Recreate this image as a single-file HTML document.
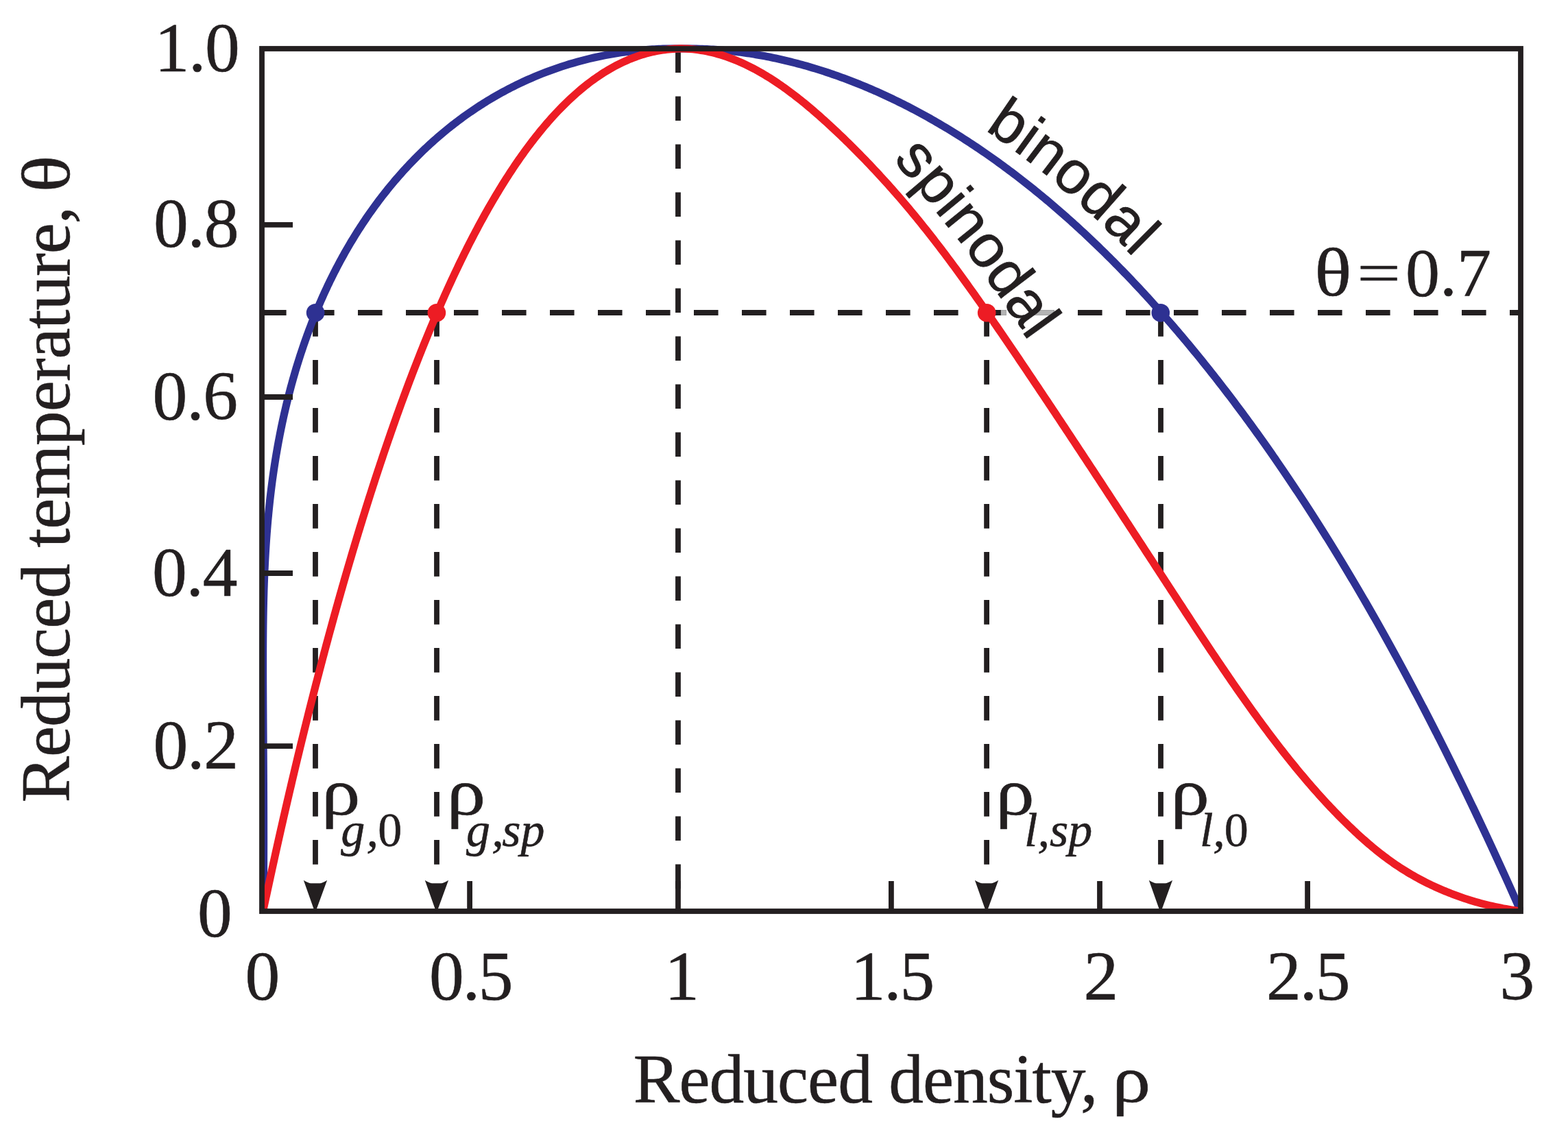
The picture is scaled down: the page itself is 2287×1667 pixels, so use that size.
<!DOCTYPE html>
<html lang="en"><head><meta charset="utf-8"><title>Binodal and spinodal curves</title>
<style>html,body{margin:0;padding:0;background:#fff}svg{display:block}text{fill:#231f20;stroke:#231f20;stroke-width:.6px;stroke-linejoin:round}.s{font-family:"Liberation Serif",serif}.h{font-family:"Liberation Sans",sans-serif;stroke-width:.8px}.i{font-style:italic}</style></head><body>
<svg width="2287" height="1667" viewBox="0 0 2287 1667">
<rect width="2287" height="1667" fill="#fff"/>
<g stroke="#231f20" stroke-width="7.8" fill="none" stroke-dasharray="35.6 34.4">
<path d="M382,456.0 H2218"/>
<path d="M989,70.5 V1329"/>
<path d="M460.0,455.1 V1300"/>
<path d="M637.0,455.1 V1300"/>
<path d="M1439.1,455.1 V1300"/>
<path d="M1693.0,455.1 V1300"/>
</g>
<g fill="#b3b3b3"><rect x="1459.8" y="452.1" width="8" height="7.8"/><rect x="1502" y="452.1" width="35.6" height="7.8"/></g>
<clipPath id="plot"><rect x="378.3" y="0" width="1843.4" height="1332.6"/></clipPath>
<g clip-path="url(#plot)" fill="none" stroke-width="11.2" stroke-linejoin="round">
<path d="M384.31,1328.90 L384.37,1291.16 L384.39,1287.90 L384.41,1284.65 L384.43,1281.39 L384.46,1274.88 L384.48,1271.63 L384.49,1268.37 L384.50,1265.11 L384.51,1261.86 L384.53,1255.35 L384.56,1242.33 L384.57,1239.07 L384.58,1232.56 L384.58,1229.30 L384.58,1219.54 L384.56,1196.75 L384.55,1193.49 L384.55,1190.24 L384.54,1186.98 L384.53,1183.72 L384.52,1180.47 L384.52,1177.21 L384.51,1173.96 L384.50,1170.70 L384.49,1167.45 L384.47,1164.19 L384.46,1160.93 L384.45,1157.68 L384.44,1154.42 L384.43,1151.17 L384.41,1147.91 L384.40,1144.66 L384.38,1141.40 L384.37,1138.15 L384.35,1134.89 L384.34,1131.63 L384.32,1128.38 L384.31,1125.12 L384.29,1121.87 L384.27,1118.61 L384.25,1115.36 L384.24,1112.10 L384.22,1108.84 L384.20,1105.59 L384.18,1102.33 L384.16,1099.08 L384.14,1095.82 L384.13,1092.57 L384.11,1089.31 L384.09,1086.06 L384.07,1082.80 L384.05,1079.54 L384.03,1076.29 L384.01,1073.03 L383.99,1069.78 L383.97,1066.52 L383.95,1063.27 L383.93,1060.01 L383.91,1056.76 L383.89,1053.50 L383.87,1050.24 L383.85,1046.99 L383.84,1043.73 L383.82,1040.48 L383.80,1037.22 L383.78,1033.97 L383.76,1030.71 L383.74,1027.46 L383.73,1024.20 L383.71,1020.94 L383.70,1017.69 L383.68,1014.43 L383.67,1011.18 L383.65,1007.92 L383.64,1004.67 L383.63,1001.41 L383.61,998.16 L383.60,994.90 L383.59,991.65 L383.58,988.39 L383.58,985.14 L383.57,981.88 L383.56,978.62 L383.56,975.37 L383.56,972.11 L383.56,968.86 L383.56,965.60 L383.56,962.35 L383.56,959.09 L383.57,955.84 L383.57,952.58 L383.58,949.33 L383.59,946.07 L383.61,942.82 L383.62,939.56 L383.64,936.31 L383.66,933.05 L383.68,929.80 L383.71,926.54 L383.73,923.29 L383.76,920.03 L383.80,916.78 L383.83,913.52 L383.87,910.27 L383.92,907.01 L383.96,903.76 L384.01,900.50 L384.06,897.25 L384.12,894.00 L384.18,890.74 L384.24,887.49 L384.31,884.23 L384.38,880.98 L384.45,877.72 L384.53,874.47 L384.61,871.21 L384.70,867.96 L384.79,864.71 L384.88,861.45 L384.98,858.20 L385.09,854.94 L385.20,851.69 L385.31,848.44 L385.43,845.18 L385.56,841.93 L385.68,838.67 L385.82,835.42 L385.96,832.17 L386.10,828.91 L386.26,825.66 L386.41,822.41 L386.57,819.15 L386.74,815.90 L386.92,812.65 L387.10,809.40 L387.28,806.14 L387.48,802.89 L387.68,799.64 L387.88,796.39 L388.09,793.13 L388.31,789.88 L388.54,786.63 L388.77,783.38 L389.01,780.13 L389.25,776.87 L389.51,773.62 L389.77,770.37 L390.04,767.12 L390.31,763.87 L390.59,760.62 L390.88,757.37 L391.18,754.12 L391.49,750.87 L391.80,747.62 L392.12,744.37 L392.45,741.12 L392.79,737.87 L393.13,734.62 L393.48,731.37 L393.85,728.12 L394.22,724.87 L394.59,721.62 L394.98,718.38 L395.37,715.13 L395.78,711.88 L396.19,708.63 L396.61,705.39 L397.04,702.14 L397.47,698.89 L397.92,695.64 L398.38,692.40 L398.84,689.15 L399.31,685.91 L399.80,682.66 L400.29,679.41 L400.79,676.17 L401.30,672.92 L401.82,669.68 L402.35,666.43 L402.89,663.19 L403.44,659.95 L404.00,656.70 L404.57,653.46 L405.14,650.21 L405.73,646.97 L406.33,643.73 L407.52,637.46 L408.33,633.26 L409.16,629.08 L410.00,624.91 L410.86,620.75 L411.73,616.62 L412.62,612.50 L413.52,608.39 L414.43,604.30 L415.36,600.23 L416.30,596.17 L417.25,592.13 L418.22,588.10 L419.20,584.09 L420.20,580.10 L421.21,576.12 L422.23,572.16 L423.27,568.21 L424.31,564.28 L425.38,560.37 L426.45,556.47 L427.54,552.59 L428.64,548.72 L429.76,544.87 L430.88,541.03 L432.02,537.21 L433.18,533.40 L434.34,529.61 L435.52,525.84 L436.71,522.08 L437.92,518.34 L439.13,514.61 L440.36,510.90 L441.60,507.20 L442.86,503.52 L444.12,499.85 L445.40,496.20 L446.69,492.57 L447.99,488.95 L449.31,485.35 L450.64,481.76 L451.98,478.18 L453.33,474.63 L454.69,471.08 L456.07,467.56 L457.46,464.04 L458.86,460.55 L460.27,457.07 L461.69,453.60 L463.13,450.15 L464.58,446.72 L466.04,443.30 L467.51,439.89 L468.99,436.50 L470.49,433.13 L472.00,429.77 L473.52,426.43 L475.05,423.10 L476.59,419.79 L478.14,416.49 L479.71,413.21 L481.28,409.94 L482.87,406.69 L484.47,403.45 L486.08,400.23 L487.71,397.02 L489.34,393.83 L490.98,390.66 L492.64,387.49 L494.31,384.35 L495.98,381.22 L497.67,378.10 L499.37,375.00 L501.09,371.92 L502.81,368.85 L504.54,365.80 L506.28,362.76 L508.04,359.73 L509.80,356.73 L511.58,353.73 L513.37,350.75 L515.17,347.79 L516.97,344.84 L518.79,341.91 L520.62,338.99 L522.46,336.09 L524.31,333.20 L526.17,330.33 L528.04,327.48 L529.92,324.63 L531.82,321.81 L533.72,319.00 L535.63,316.20 L537.55,313.42 L539.48,310.65 L541.43,307.90 L543.38,305.17 L545.34,302.45 L547.31,299.74 L549.30,297.05 L551.29,294.38 L553.29,291.72 L555.30,289.08 L557.32,286.45 L559.36,283.83 L561.40,281.24 L563.45,278.65 L565.51,276.09 L567.58,273.53 L569.66,271.00 L571.75,268.48 L573.85,265.97 L575.96,263.48 L578.08,261.00 L580.20,258.54 L582.34,256.10 L584.49,253.67 L586.64,251.26 L588.81,248.86 L590.98,246.48 L593.17,244.11 L595.36,241.76 L597.56,239.42 L599.77,237.10 L601.99,234.79 L604.22,232.50 L606.46,230.23 L608.71,227.97 L610.96,225.73 L613.23,223.50 L615.50,221.29 L617.78,219.09 L620.07,216.91 L622.37,214.75 L624.68,212.60 L627.00,210.46 L629.32,208.34 L631.66,206.24 L634.00,204.16 L636.35,202.08 L638.71,200.03 L641.08,197.99 L643.46,195.97 L645.84,193.96 L648.23,191.97 L650.64,189.99 L653.05,188.03 L655.46,186.09 L657.89,184.16 L660.32,182.24 L662.76,180.35 L665.21,178.47 L667.67,176.60 L670.14,174.75 L672.61,172.92 L675.09,171.10 L677.58,169.30 L680.08,167.52 L682.58,165.75 L685.09,163.99 L687.61,162.26 L690.14,160.54 L692.68,158.83 L695.22,157.14 L697.77,155.47 L700.33,153.81 L702.89,152.17 L705.46,150.55 L708.04,148.94 L710.63,147.35 L713.22,145.78 L715.82,144.22 L718.43,142.67 L721.04,141.15 L723.66,139.64 L726.29,138.14 L728.93,136.67 L731.57,135.20 L734.22,133.76 L736.87,132.33 L739.53,130.92 L742.20,129.52 L744.88,128.14 L747.56,126.77 L750.25,125.43 L752.94,124.10 L755.64,122.78 L758.35,121.48 L763.78,118.93 L769.24,116.45 L774.72,114.03 L780.22,111.68 L785.75,109.39 L791.30,107.17 L796.88,105.02 L802.47,102.93 L808.09,100.90 L813.73,98.94 L819.39,97.05 L825.08,95.22 L830.78,93.46 L836.50,91.76 L842.24,90.13 L848.01,88.57 L853.79,87.07 L859.58,85.64 L865.40,84.27 L871.24,82.97 L877.09,81.74 L882.96,80.57 L888.85,79.47 L894.75,78.44 L900.67,77.47 L903.63,77.01 L906.60,76.56 L909.58,76.14 L912.55,75.73 L915.53,75.33 L918.52,74.96 L921.51,74.60 L924.50,74.25 L927.49,73.93 L930.49,73.62 L933.50,73.32 L936.50,73.04 L939.51,72.78 L942.52,72.54 L945.54,72.31 L948.56,72.10 L951.58,71.91 L954.61,71.73 L957.64,71.57 L960.67,71.42 L963.70,71.29 L966.75,71.18 L994.00,70.92 L1021.50,71.24 L1024.60,71.36 L1027.69,71.49 L1030.80,71.64 L1033.90,71.81 L1037.01,71.99 L1040.12,72.19 L1043.23,72.40 L1046.35,72.64 L1049.47,72.88 L1052.59,73.15 L1055.71,73.43 L1058.84,73.73 L1061.97,74.04 L1065.10,74.37 L1068.23,74.71 L1071.37,75.08 L1074.51,75.46 L1077.65,75.85 L1080.80,76.26 L1083.94,76.69 L1087.09,77.14 L1090.24,77.60 L1093.40,78.07 L1096.55,78.57 L1099.71,79.08 L1102.87,79.60 L1106.03,80.15 L1109.20,80.71 L1112.37,81.28 L1115.53,81.87 L1118.70,82.48 L1121.88,83.11 L1125.05,83.75 L1128.23,84.41 L1131.41,85.08 L1134.59,85.77 L1137.77,86.48 L1140.95,87.20 L1144.14,87.94 L1147.32,88.70 L1150.51,89.47 L1153.70,90.26 L1156.89,91.06 L1160.08,91.88 L1163.28,92.72 L1166.47,93.57 L1169.67,94.44 L1172.87,95.33 L1176.07,96.23 L1179.27,97.15 L1182.48,98.09 L1185.68,99.04 L1188.88,100.01 L1192.09,100.99 L1195.30,101.99 L1198.51,103.01 L1201.72,104.04 L1204.93,105.09 L1208.14,106.16 L1211.35,107.24 L1214.57,108.34 L1217.78,109.46 L1221.00,110.59 L1224.21,111.73 L1227.43,112.90 L1230.65,114.08 L1233.87,115.27 L1237.09,116.49 L1240.31,117.72 L1243.53,118.96 L1246.75,120.22 L1249.97,121.50 L1253.20,122.79 L1256.42,124.10 L1259.64,125.43 L1262.87,126.77 L1266.09,128.13 L1269.32,129.51 L1272.54,130.90 L1275.77,132.31 L1279.00,133.73 L1282.22,135.17 L1285.45,136.63 L1288.68,138.10 L1291.91,139.59 L1295.14,141.09 L1298.36,142.61 L1301.59,144.15 L1304.82,145.70 L1308.05,147.27 L1311.28,148.86 L1314.51,150.46 L1317.74,152.08 L1320.96,153.71 L1324.19,155.36 L1327.42,157.03 L1330.65,158.71 L1333.88,160.41 L1337.11,162.13 L1340.34,163.86 L1343.57,165.60 L1346.79,167.37 L1350.02,169.15 L1353.25,170.94 L1356.48,172.75 L1359.70,174.58 L1362.93,176.42 L1366.16,178.28 L1369.38,180.16 L1372.61,182.05 L1375.83,183.96 L1379.06,185.88 L1382.28,187.82 L1385.51,189.78 L1388.73,191.75 L1391.95,193.74 L1395.17,195.75 L1398.39,197.77 L1401.62,199.80 L1404.84,201.85 L1408.06,203.92 L1411.27,206.01 L1414.49,208.11 L1417.71,210.22 L1420.93,212.36 L1424.14,214.50 L1427.36,216.67 L1430.57,218.85 L1433.79,221.05 L1437.00,223.26 L1440.21,225.49 L1443.42,227.73 L1446.63,229.99 L1449.84,232.27 L1453.05,234.56 L1456.25,236.87 L1459.46,239.19 L1462.67,241.53 L1465.87,243.89 L1469.07,246.26 L1472.27,248.64 L1475.48,251.05 L1478.68,253.47 L1481.87,255.90 L1485.07,258.35 L1488.27,260.82 L1491.46,263.30 L1494.66,265.80 L1497.85,268.32 L1501.04,270.85 L1504.23,273.39 L1507.42,275.95 L1510.61,278.53 L1513.79,281.12 L1516.98,283.73 L1520.16,286.36 L1523.34,289.00 L1526.52,291.66 L1529.70,294.33 L1532.88,297.02 L1536.06,299.72 L1539.23,302.44 L1542.41,305.18 L1545.58,307.93 L1548.75,310.69 L1551.92,313.48 L1555.09,316.27 L1558.26,319.09 L1561.42,321.92 L1564.58,324.76 L1567.75,327.62 L1570.91,330.50 L1574.06,333.39 L1577.22,336.30 L1580.38,339.22 L1583.53,342.16 L1586.68,345.12 L1589.83,348.09 L1592.98,351.07 L1596.13,354.08 L1599.28,357.09 L1602.42,360.12 L1605.56,363.17 L1608.71,366.24 L1611.84,369.32 L1614.98,372.41 L1618.12,375.52 L1621.25,378.65 L1624.39,381.79 L1627.52,384.95 L1630.65,388.12 L1633.77,391.31 L1636.90,394.51 L1640.02,397.73 L1643.14,400.96 L1646.26,404.21 L1649.38,407.48 L1652.50,410.76 L1655.62,414.05 L1658.73,417.37 L1661.84,420.69 L1664.95,424.03 L1668.06,427.39 L1671.17,430.77 L1674.27,434.15 L1677.37,437.56 L1680.47,440.98 L1683.57,444.41 L1686.67,447.86 L1689.77,451.33 L1692.86,454.81 L1695.95,458.30 L1699.04,461.82 L1702.13,465.34 L1705.22,468.88 L1708.30,472.44 L1711.39,476.01 L1714.47,479.60 L1717.55,483.20 L1720.62,486.82 L1723.70,490.46 L1726.77,494.10 L1729.85,497.77 L1732.92,501.45 L1735.99,505.14 L1739.05,508.85 L1742.12,512.58 L1745.18,516.32 L1748.25,520.07 L1751.31,523.84 L1754.36,527.63 L1757.42,531.43 L1760.48,535.24 L1763.53,539.07 L1766.58,542.92 L1769.63,546.78 L1772.68,550.66 L1775.73,554.55 L1778.77,558.46 L1781.81,562.38 L1784.85,566.31 L1787.89,570.27 L1790.93,574.23 L1793.96,578.22 L1797.00,582.22 L1800.03,586.23 L1803.06,590.26 L1806.09,594.30 L1809.11,598.36 L1812.14,602.44 L1815.16,606.52 L1818.18,610.63 L1821.20,614.75 L1824.21,618.89 L1827.23,623.04 L1830.24,627.20 L1833.25,631.38 L1836.26,635.58 L1839.27,639.79 L1843.73,646.08 L1846.02,649.32 L1848.31,652.57 L1850.59,655.82 L1852.87,659.07 L1855.14,662.32 L1857.39,665.57 L1859.65,668.82 L1861.89,672.07 L1864.13,675.32 L1866.36,678.56 L1868.58,681.81 L1870.80,685.06 L1873.01,688.31 L1875.21,691.56 L1877.40,694.80 L1879.59,698.05 L1881.77,701.30 L1883.95,704.54 L1886.12,707.79 L1888.28,711.04 L1890.43,714.28 L1892.58,717.53 L1894.72,720.77 L1896.86,724.02 L1898.99,727.26 L1901.11,730.51 L1903.23,733.75 L1905.34,737.00 L1907.44,740.24 L1909.54,743.49 L1911.63,746.73 L1913.72,749.98 L1915.80,753.22 L1917.87,756.47 L1919.94,759.71 L1922.00,762.95 L1924.06,766.20 L1926.11,769.44 L1928.15,772.69 L1930.19,775.93 L1932.22,779.17 L1934.25,782.42 L1936.27,785.66 L1938.29,788.90 L1940.30,792.14 L1942.30,795.39 L1944.30,798.63 L1946.29,801.87 L1948.28,805.11 L1950.27,808.36 L1952.24,811.60 L1954.22,814.84 L1956.18,818.08 L1958.15,821.33 L1960.10,824.57 L1962.06,827.81 L1964.00,831.05 L1965.94,834.29 L1967.88,837.53 L1969.81,840.78 L1971.74,844.02 L1973.66,847.26 L1975.58,850.50 L1977.49,853.74 L1979.40,856.98 L1981.30,860.22 L1983.20,863.47 L1985.09,866.71 L1986.98,869.95 L1988.86,873.19 L1990.74,876.43 L1992.61,879.67 L1994.48,882.91 L1996.35,886.15 L1998.21,889.39 L2000.06,892.63 L2001.91,895.87 L2003.76,899.11 L2005.60,902.35 L2007.44,905.60 L2009.28,908.84 L2011.11,912.08 L2012.93,915.32 L2014.75,918.56 L2016.57,921.80 L2018.38,925.04 L2020.19,928.28 L2021.99,931.52 L2023.79,934.76 L2025.59,938.00 L2027.38,941.24 L2029.17,944.48 L2030.95,947.72 L2032.73,950.96 L2034.51,954.20 L2036.28,957.44 L2038.05,960.68 L2039.81,963.92 L2041.57,967.16 L2043.33,970.40 L2045.08,973.64 L2046.83,976.88 L2048.57,980.12 L2050.31,983.36 L2052.05,986.60 L2053.78,989.84 L2055.51,993.08 L2057.24,996.32 L2058.96,999.56 L2060.68,1002.80 L2062.39,1006.04 L2064.11,1009.28 L2065.81,1012.52 L2067.52,1015.76 L2069.22,1019.00 L2070.92,1022.24 L2072.61,1025.48 L2074.30,1028.72 L2075.99,1031.96 L2077.67,1035.20 L2079.35,1038.44 L2081.03,1041.68 L2082.70,1044.92 L2084.37,1048.16 L2086.04,1051.40 L2087.70,1054.64 L2089.36,1057.88 L2091.02,1061.12 L2092.67,1064.36 L2094.33,1067.60 L2095.97,1070.85 L2097.62,1074.09 L2099.26,1077.33 L2100.90,1080.57 L2102.53,1083.81 L2104.16,1087.05 L2105.79,1090.29 L2107.42,1093.53 L2109.04,1096.77 L2110.66,1100.01 L2112.27,1103.25 L2113.89,1106.49 L2115.50,1109.73 L2117.10,1112.97 L2118.71,1116.21 L2120.31,1119.45 L2121.91,1122.69 L2123.50,1125.93 L2125.09,1129.18 L2126.68,1132.42 L2128.27,1135.66 L2129.85,1138.90 L2131.44,1142.14 L2133.01,1145.38 L2134.59,1148.62 L2136.16,1151.86 L2137.73,1155.10 L2139.30,1158.34 L2140.86,1161.59 L2142.42,1164.83 L2143.98,1168.07 L2145.54,1171.31 L2147.09,1174.55 L2148.64,1177.79 L2150.19,1181.03 L2151.73,1184.27 L2153.27,1187.52 L2154.81,1190.76 L2156.35,1194.00 L2157.88,1197.24 L2168.55,1219.93 L2173.08,1229.66 L2174.59,1232.90 L2177.59,1239.39 L2179.09,1242.63 L2185.06,1255.60 L2188.03,1262.08 L2189.51,1265.33 L2190.99,1268.57 L2192.47,1271.81 L2193.94,1275.06 L2196.88,1281.54 L2198.35,1284.79 L2199.82,1288.03 L2201.28,1291.27 L2218.06,1328.87" stroke="#2e3192"/>
<path d="M383.48,1329.22 L384.50,1324.50 L385.52,1319.79 L386.54,1315.09 L387.57,1310.41 L388.59,1305.73 L389.61,1301.06 L390.61,1296.40 L391.61,1291.75 L392.61,1287.11 L393.61,1282.48 L394.61,1277.86 L395.62,1273.25 L396.62,1268.65 L397.62,1264.07 L398.62,1259.49 L399.63,1254.92 L400.63,1250.37 L401.64,1245.82 L402.64,1241.28 L403.65,1236.76 L404.65,1232.24 L405.66,1227.74 L406.66,1223.25 L407.67,1218.76 L408.68,1214.29 L409.68,1209.83 L410.69,1205.37 L411.70,1200.93 L412.71,1196.50 L413.71,1192.08 L414.72,1187.67 L415.73,1183.27 L416.74,1178.88 L417.75,1174.50 L418.76,1170.13 L419.77,1165.77 L420.78,1161.42 L421.79,1157.08 L422.80,1152.75 L423.82,1148.43 L424.83,1144.12 L425.84,1139.82 L426.85,1135.54 L427.86,1131.26 L428.88,1126.99 L429.89,1122.73 L430.90,1118.49 L431.92,1114.25 L432.93,1110.02 L433.94,1105.80 L434.96,1101.60 L435.97,1097.40 L436.99,1093.22 L438.00,1089.04 L439.02,1084.87 L440.03,1080.72 L441.05,1076.57 L442.07,1072.43 L443.08,1068.31 L444.10,1064.19 L445.11,1060.09 L446.13,1055.99 L447.15,1051.90 L448.17,1047.83 L449.18,1043.76 L450.20,1039.71 L451.22,1035.66 L452.24,1031.63 L453.25,1027.60 L454.27,1023.58 L455.29,1019.58 L456.31,1015.58 L457.33,1011.60 L458.35,1007.62 L459.37,1003.65 L460.39,999.70 L461.41,995.75 L462.43,991.81 L463.44,987.89 L464.46,983.97 L465.48,980.06 L466.51,976.17 L467.53,972.28 L468.55,968.40 L469.57,964.53 L470.59,960.68 L471.61,956.83 L472.63,952.99 L473.65,949.16 L474.67,945.34 L475.69,941.53 L476.71,937.73 L477.74,933.94 L478.76,930.16 L479.78,926.39 L480.80,922.63 L481.82,918.88 L482.85,915.14 L483.87,911.41 L484.89,907.69 L485.91,903.98 L486.94,900.27 L487.96,896.58 L488.98,892.90 L490.00,889.23 L491.03,885.56 L492.05,881.91 L493.07,878.26 L494.10,874.63 L495.12,871.00 L496.14,867.39 L497.17,863.78 L498.19,860.19 L499.21,856.60 L500.24,853.02 L501.26,849.45 L502.28,845.89 L503.31,842.35 L504.33,838.81 L505.36,835.28 L506.38,831.76 L507.40,828.24 L508.43,824.74 L509.45,821.25 L510.48,817.77 L511.50,814.30 L512.52,810.83 L513.55,807.38 L514.57,803.93 L515.60,800.50 L516.62,797.07 L517.65,793.65 L518.67,790.25 L519.70,786.85 L520.72,783.46 L521.75,780.08 L522.77,776.71 L523.79,773.35 L524.82,770.00 L525.84,766.66 L526.87,763.33 L527.89,760.00 L528.92,756.69 L529.94,753.38 L530.97,750.09 L531.99,746.80 L533.02,743.53 L534.04,740.26 L535.07,737.00 L536.09,733.75 L537.12,730.51 L538.14,727.28 L539.17,724.06 L540.19,720.85 L541.22,717.64 L542.24,714.45 L543.27,711.26 L544.29,708.09 L545.32,704.92 L546.34,701.76 L547.37,698.61 L548.39,695.48 L549.42,692.35 L550.44,689.22 L551.47,686.11 L552.49,683.01 L553.52,679.92 L554.54,676.83 L555.57,673.76 L556.59,670.69 L557.62,667.63 L558.64,664.58 L559.67,661.54 L560.69,658.51 L561.72,655.49 L562.74,652.48 L563.77,649.47 L564.79,646.48 L565.82,643.49 L566.84,640.52 L567.87,637.55 L568.89,634.59 L569.92,631.64 L570.94,628.70 L571.97,625.77 L572.99,622.85 L574.02,619.93 L575.04,617.03 L576.07,614.13 L577.09,611.24 L578.12,608.36 L579.14,605.49 L580.17,602.63 L581.19,599.78 L582.22,596.94 L583.24,594.10 L585.29,588.46 L587.34,582.85 L589.39,577.28 L591.44,571.74 L593.48,566.24 L595.53,560.77 L597.58,555.34 L599.63,549.94 L601.68,544.57 L603.73,539.24 L605.77,533.95 L607.82,528.69 L609.87,523.46 L611.92,518.27 L613.96,513.11 L616.01,507.99 L618.06,502.90 L620.10,497.84 L622.15,492.82 L624.20,487.83 L626.24,482.88 L628.29,477.96 L630.34,473.07 L632.38,468.22 L634.43,463.40 L636.47,458.61 L638.52,453.86 L640.56,449.14 L642.61,444.46 L644.65,439.80 L646.70,435.18 L648.74,430.59 L650.79,426.04 L652.83,421.52 L654.87,417.03 L656.92,412.57 L658.96,408.15 L661.00,403.76 L663.05,399.40 L665.09,395.08 L667.13,390.78 L669.18,386.52 L671.22,382.29 L673.26,378.09 L675.30,373.93 L677.34,369.80 L679.39,365.70 L681.43,361.63 L683.47,357.59 L685.51,353.58 L687.55,349.61 L689.59,345.67 L691.63,341.76 L693.67,337.88 L695.71,334.03 L697.75,330.21 L699.79,326.42 L701.83,322.67 L703.87,318.95 L705.91,315.25 L707.95,311.59 L709.99,307.96 L712.03,304.36 L714.07,300.79 L716.11,297.25 L718.15,293.74 L720.19,290.27 L722.22,286.82 L724.26,283.40 L726.30,280.02 L728.34,276.66 L730.37,273.33 L732.41,270.04 L734.45,266.77 L736.49,263.54 L738.52,260.33 L740.56,257.15 L742.60,254.01 L744.63,250.89 L746.67,247.80 L748.71,244.74 L750.74,241.71 L752.78,238.71 L754.82,235.74 L756.85,232.80 L758.89,229.89 L760.92,227.01 L762.96,224.15 L765.00,221.33 L767.03,218.53 L769.07,215.77 L771.10,213.03 L773.14,210.32 L775.17,207.64 L777.21,204.98 L779.24,202.36 L781.28,199.76 L783.31,197.20 L785.34,194.66 L787.38,192.15 L789.41,189.66 L791.45,187.21 L793.48,184.78 L795.52,182.38 L797.55,180.01 L799.58,177.67 L801.62,175.35 L803.65,173.06 L805.69,170.80 L807.72,168.57 L810.77,165.27 L813.82,162.03 L816.87,158.85 L819.92,155.74 L822.97,152.68 L826.02,149.69 L829.07,146.75 L832.12,143.88 L835.17,141.06 L838.22,138.31 L841.27,135.61 L844.32,132.97 L847.37,130.39 L850.42,127.87 L853.47,125.41 L856.52,123.00 L859.57,120.66 L862.62,118.37 L865.67,116.14 L868.72,113.96 L871.77,111.84 L874.82,109.78 L877.87,107.77 L880.92,105.82 L883.97,103.93 L887.02,102.09 L890.07,100.31 L893.12,98.58 L896.17,96.91 L899.22,95.29 L902.28,93.72 L905.33,92.21 L908.38,90.76 L911.43,89.36 L914.48,88.01 L917.54,86.71 L920.59,85.47 L923.64,84.28 L926.70,83.14 L929.75,82.05 L932.81,81.02 L935.86,80.04 L938.92,79.11 L941.97,78.23 L945.03,77.40 L948.09,76.62 L951.14,75.89 L954.20,75.22 L957.26,74.59 L960.32,74.01 L963.38,73.49 L966.44,73.01 L969.50,72.58 L972.56,72.20 L975.62,71.87 L978.68,71.59 L981.74,71.36 L984.81,71.17 L987.87,71.03 L990.94,70.94 L994.00,70.90 L998.08,70.98 L1002.17,71.16 L1006.24,71.42 L1010.32,71.78 L1014.39,72.22 L1018.47,72.74 L1022.53,73.35 L1026.60,74.04 L1030.66,74.82 L1034.71,75.68 L1038.76,76.62 L1042.81,77.65 L1046.86,78.75 L1050.90,79.93 L1054.93,81.19 L1058.96,82.53 L1062.99,83.94 L1067.01,85.43 L1071.03,87.00 L1075.05,88.64 L1079.06,90.36 L1083.06,92.15 L1087.07,94.00 L1091.07,95.94 L1095.06,97.94 L1099.05,100.01 L1101.71,101.43 L1104.37,102.88 L1107.03,104.36 L1109.68,105.87 L1112.34,107.41 L1114.99,108.98 L1117.65,110.58 L1120.30,112.20 L1122.95,113.86 L1125.60,115.54 L1128.25,117.26 L1130.90,119.00 L1133.54,120.77 L1136.19,122.56 L1138.84,124.39 L1141.49,126.24 L1144.13,128.12 L1146.78,130.02 L1149.43,131.95 L1152.07,133.91 L1154.72,135.89 L1157.37,137.90 L1160.02,139.93 L1162.66,141.99 L1165.31,144.08 L1167.96,146.18 L1170.62,148.32 L1173.27,150.47 L1175.92,152.65 L1178.58,154.86 L1181.24,157.09 L1183.89,159.34 L1186.56,161.61 L1189.22,163.91 L1191.88,166.23 L1194.55,168.57 L1197.22,170.93 L1199.89,173.31 L1202.57,175.72 L1205.25,178.15 L1207.93,180.59 L1210.62,183.06 L1213.31,185.55 L1216.00,188.06 L1218.70,190.59 L1221.40,193.13 L1224.10,195.70 L1226.81,198.29 L1229.52,200.90 L1232.24,203.52 L1234.95,206.17 L1237.68,208.84 L1240.40,211.53 L1243.13,214.23 L1245.86,216.96 L1248.60,219.70 L1251.33,222.47 L1254.07,225.25 L1256.82,228.06 L1259.56,230.88 L1262.31,233.73 L1265.06,236.59 L1267.81,239.47 L1270.57,242.37 L1273.33,245.29 L1276.09,248.23 L1278.85,251.19 L1281.61,254.17 L1284.37,257.17 L1287.14,260.19 L1289.90,263.22 L1292.67,266.28 L1295.44,269.35 L1298.20,272.45 L1300.97,275.56 L1303.74,278.69 L1306.51,281.84 L1309.28,285.02 L1312.04,288.21 L1314.81,291.41 L1317.57,294.64 L1320.34,297.89 L1323.10,301.16 L1325.86,304.44 L1328.62,307.75 L1331.38,311.07 L1334.13,314.41 L1336.89,317.77 L1339.64,321.15 L1342.39,324.54 L1345.14,327.96 L1347.88,331.39 L1350.63,334.84 L1353.37,338.30 L1356.11,341.79 L1358.85,345.29 L1361.59,348.80 L1364.33,352.33 L1367.06,355.88 L1369.80,359.44 L1372.53,363.02 L1375.26,366.62 L1377.99,370.23 L1380.72,373.85 L1383.44,377.49 L1386.17,381.14 L1388.89,384.81 L1391.62,388.49 L1394.34,392.19 L1397.06,395.90 L1399.78,399.62 L1402.50,403.35 L1405.22,407.10 L1407.94,410.86 L1410.66,414.64 L1413.38,418.42 L1416.09,422.22 L1418.81,426.03 L1421.52,429.85 L1424.24,433.69 L1426.95,437.53 L1429.67,441.39 L1432.38,445.25 L1435.10,449.13 L1437.81,453.02 L1440.53,456.92 L1443.24,460.82 L1445.95,464.74 L1448.67,468.67 L1451.38,472.60 L1454.10,476.55 L1456.82,480.50 L1459.53,484.46 L1462.25,488.43 L1464.97,492.41 L1467.69,496.40 L1470.41,500.39 L1473.13,504.39 L1475.85,508.40 L1478.58,512.42 L1481.30,516.44 L1484.03,520.47 L1486.76,524.51 L1489.49,528.55 L1492.22,532.60 L1494.95,536.65 L1497.68,540.71 L1500.42,544.78 L1503.15,548.85 L1505.89,552.93 L1508.63,557.01 L1511.37,561.09 L1514.11,565.19 L1516.85,569.28 L1519.59,573.39 L1522.33,577.49 L1525.08,581.60 L1527.82,585.72 L1530.57,589.84 L1533.32,593.96 L1536.06,598.09 L1538.81,602.22 L1541.56,606.36 L1544.31,610.49 L1547.06,614.64 L1549.81,618.78 L1552.56,622.93 L1555.31,627.08 L1558.06,631.24 L1560.81,635.39 L1563.56,639.55 L1566.31,643.72 L1569.06,647.88 L1571.81,652.05 L1574.56,656.22 L1577.31,660.39 L1580.06,664.56 L1582.81,668.74 L1585.56,672.91 L1588.31,677.09 L1591.05,681.27 L1593.80,685.45 L1596.55,689.63 L1599.30,693.81 L1602.04,697.99 L1604.79,702.18 L1607.53,706.36 L1610.27,710.55 L1613.02,714.73 L1615.76,718.92 L1618.50,723.10 L1621.24,727.29 L1623.98,731.47 L1626.71,735.66 L1629.45,739.84 L1632.18,744.02 L1634.92,748.20 L1637.65,752.39 L1640.38,756.57 L1643.11,760.74 L1645.84,764.92 L1648.56,769.10 L1651.29,773.27 L1654.01,777.45 L1656.73,781.62 L1659.45,785.79 L1662.17,789.95 L1664.88,794.12 L1667.59,798.28 L1670.30,802.44 L1673.01,806.60 L1675.72,810.75 L1678.42,814.91 L1681.13,819.05 L1683.83,823.20 L1686.53,827.34 L1689.22,831.48 L1691.92,835.62 L1694.61,839.75 L1697.29,843.88 L1699.98,848.00 L1702.66,852.12 L1705.35,856.24 L1708.02,860.35 L1710.70,864.45 L1713.37,868.56 L1716.04,872.65 L1718.71,876.75 L1721.38,880.83 L1724.04,884.92 L1726.70,888.99 L1729.37,893.06 L1732.02,897.12 L1734.68,901.18 L1737.33,905.23 L1739.99,909.28 L1742.64,913.31 L1745.29,917.34 L1747.94,921.36 L1750.59,925.38 L1753.24,929.38 L1755.88,933.38 L1758.53,937.37 L1761.17,941.35 L1763.82,945.33 L1766.46,949.29 L1769.10,953.24 L1771.75,957.19 L1774.39,961.12 L1777.03,965.05 L1779.67,968.96 L1782.31,972.87 L1784.96,976.76 L1787.60,980.64 L1790.24,984.51 L1792.88,988.38 L1795.53,992.22 L1798.17,996.06 L1800.81,999.89 L1803.46,1003.70 L1806.10,1007.50 L1808.75,1011.29 L1811.40,1015.07 L1814.04,1018.83 L1816.69,1022.58 L1819.34,1026.32 L1822.00,1030.05 L1824.65,1033.76 L1827.30,1037.45 L1829.96,1041.13 L1832.61,1044.80 L1835.27,1048.45 L1837.93,1052.09 L1840.59,1055.72 L1843.26,1059.32 L1845.92,1062.92 L1848.59,1066.49 L1851.26,1070.05 L1853.93,1073.60 L1856.60,1077.13 L1859.27,1080.64 L1861.95,1084.14 L1864.63,1087.61 L1867.31,1091.08 L1869.99,1094.52 L1872.68,1097.95 L1875.36,1101.36 L1878.05,1104.75 L1880.74,1108.12 L1883.44,1111.47 L1886.14,1114.81 L1888.83,1118.13 L1891.54,1121.43 L1894.24,1124.71 L1896.95,1127.97 L1899.66,1131.21 L1902.37,1134.43 L1905.08,1137.63 L1907.80,1140.81 L1910.52,1143.97 L1913.24,1147.11 L1915.97,1150.23 L1918.70,1153.32 L1921.43,1156.40 L1924.16,1159.45 L1926.90,1162.49 L1929.64,1165.50 L1932.38,1168.49 L1935.12,1171.46 L1937.87,1174.40 L1940.62,1177.32 L1943.37,1180.22 L1946.13,1183.10 L1948.89,1185.95 L1951.65,1188.78 L1954.41,1191.59 L1957.18,1194.37 L1959.95,1197.13 L1962.72,1199.86 L1965.50,1202.57 L1968.27,1205.26 L1971.05,1207.92 L1973.84,1210.55 L1976.62,1213.16 L1979.41,1215.74 L1982.20,1218.30 L1985.00,1220.83 L1987.80,1223.33 L1990.60,1225.81 L1993.41,1228.25 L1996.22,1230.67 L1999.03,1233.06 L2001.85,1235.42 L2004.68,1237.75 L2007.50,1240.04 L2010.34,1242.31 L2013.17,1244.55 L2016.01,1246.75 L2018.86,1248.92 L2021.71,1251.06 L2024.56,1253.17 L2027.42,1255.25 L2030.28,1257.29 L2033.15,1259.29 L2036.02,1261.26 L2038.90,1263.20 L2041.78,1265.10 L2044.66,1266.97 L2047.55,1268.80 L2050.44,1270.59 L2053.33,1272.35 L2056.22,1274.08 L2059.11,1275.77 L2062.01,1277.43 L2064.90,1279.06 L2067.79,1280.65 L2070.68,1282.21 L2073.57,1283.74 L2076.45,1285.24 L2079.33,1286.71 L2082.21,1288.15 L2085.08,1289.55 L2087.95,1290.93 L2090.82,1292.28 L2093.68,1293.60 L2096.53,1294.89 L2099.38,1296.15 L2102.22,1297.39 L2105.05,1298.60 L2107.88,1299.78 L2110.70,1300.93 L2113.52,1302.06 L2116.33,1303.16 L2119.13,1304.24 L2123.31,1305.81 L2127.48,1307.32 L2131.64,1308.78 L2135.78,1310.18 L2139.90,1311.54 L2144.01,1312.84 L2148.10,1314.09 L2152.18,1315.30 L2156.24,1316.45 L2160.29,1317.56 L2164.33,1318.62 L2168.36,1319.64 L2172.39,1320.62 L2176.40,1321.55 L2180.41,1322.44 L2184.42,1323.29 L2188.43,1324.10 L2192.43,1324.88 L2196.44,1325.61 L2200.46,1326.30 L2204.48,1326.96 L2208.52,1327.58 L2212.57,1328.17 L2216.64,1328.72 L2218.00,1328.89" stroke="#ed1c24"/>
</g>
<g stroke="#231f20" stroke-width="7.8" fill="none">
<rect x="382.0" y="71.0" width="1836.0" height="1258.0"/>
<path d="M382,327.9 H427"/>
<path d="M382,579.0 H427"/>
<path d="M382,836.0 H427"/>
<path d="M382,1088.2 H427"/>
<path d="M685.1,1329 V1285"/>
<path d="M989.0,1329 V1285"/>
<path d="M1299.9,1329 V1285"/>
<path d="M1604.0,1329 V1285"/>
<path d="M1907.1,1329 V1285"/>
</g>
<g fill="#231f20">
<path d="M459.7,1331.5 L442.8,1283.8 Q449.0,1287.7 453.0,1288.2 L467.0,1288.2 Q471.0,1287.7 477.1,1283.8 Z"/>
<path d="M636.7,1331.5 L619.8,1283.8 Q626.0,1287.7 630.0,1288.2 L644.0,1288.2 Q648.0,1287.7 654.1,1283.8 Z"/>
<path d="M1438.8,1331.5 L1421.9,1283.8 Q1428.1,1287.7 1432.1,1288.2 L1446.1,1288.2 Q1450.1,1287.7 1456.2,1283.8 Z"/>
<path d="M1692.7,1331.5 L1675.8,1283.8 Q1682.0,1287.7 1686.0,1288.2 L1700.0,1288.2 Q1704.0,1287.7 1710.1,1283.8 Z"/>
</g>
<circle cx="460.1" cy="456.2" r="13.3" fill="#2e3192"/>
<circle cx="636.9" cy="456.2" r="13.3" fill="#ed1c24"/>
<circle cx="1439.2" cy="456.2" r="13.3" fill="#ed1c24"/>
<circle cx="1692.8" cy="456.2" r="13.3" fill="#2e3192"/>
<g class="s" font-size="101.5" letter-spacing="-1.2">
<text x="225.4" y="104.0">1.0</text>
<text x="224.0" y="360.0">0.8</text>
<text x="222.6" y="611.6">0.6</text>
<text x="222.0" y="868.8">0.4</text>
<text x="223.5" y="1120.8">0.2</text>
<text x="288.0" y="1366.0">0</text>
</g>
<g class="s" font-size="101.5" letter-spacing="-2.2">
<text x="357.5" y="1457.6">0</text>
<text x="626.1" y="1457.6">0.5</text>
<text x="969.3" y="1457.6">1</text>
<text x="1240.8" y="1457.6">1.5</text>
<text x="1580.5" y="1457.6">2</text>
<text x="1847.1" y="1457.6">2.5</text>
<text x="2187.5" y="1457.6">3</text>
</g>
<text class="s" font-size="101.5" x="923.8" y="1607.8" letter-spacing="-1">Reduced density,</text>
<text class="s" font-size="98" stroke-width="1.6" transform="translate(1621.9,1607.4) scale(1.15,1)">ρ</text>
<text class="s" font-size="101.5" transform="translate(101.3,1170.5) rotate(-90)" letter-spacing="-1.1">Reduced temperature,</text>
<text class="s" font-size="100" transform="translate(101.2,280.4) rotate(-90) scale(1.12,1)">θ</text>
<g class="s" font-size="100">
<text transform="translate(1917.3,431.3) scale(1.13,1)">θ</text>
<text transform="translate(1979.2,426.0) scale(1.13,0.82)">=</text>
<text x="2049.9" y="431.3">0.7</text>
</g>
<text class="s" font-size="98" stroke-width="1.6" transform="translate(468.7,1187.9) scale(1.16,1)">ρ</text>
<text class="s" font-size="70" y="1234"><tspan class="i" x="497.3">g</tspan><tspan class="i" x="534.6">,</tspan><tspan x="551.2">0</tspan></text>
<text class="s" font-size="98" stroke-width="1.6" transform="translate(651.4,1187.9) scale(1.16,1)">ρ</text>
<text class="s" font-size="70" y="1234"><tspan class="i" x="680.0">g</tspan><tspan class="i" x="717.3">,</tspan><tspan class="i" x="732.3">sp</tspan></text>
<text class="s" font-size="98" stroke-width="1.6" transform="translate(1451.9,1187.9) scale(1.16,1)">ρ</text>
<text class="s" font-size="70" y="1234"><tspan class="i" x="1494.0">l,sp</tspan></text>
<text class="s" font-size="98" stroke-width="1.6" transform="translate(1707.2,1187.9) scale(1.16,1)">ρ</text>
<text class="s" font-size="70" y="1234"><tspan class="i" x="1749.9">l,</tspan><tspan x="1785.7">0</tspan></text>
<text class="h" font-size="88.0" x="1436.2 1476.5 1492.3 1531.0 1568.6 1604.9 1640.1" y="188.9 217.7 229.6 260.5 292.8 326.6 361.9" rotate="34.4 35.9 37.3 39.4 41.4 43.4 44.9">binodal</text>
<text class="h" font-size="88.0" x="1302.2 1331.2 1362.6 1374.8 1404.9 1434.0 1462.2 1489.5" y="232.7 267.0 305.7 321.3 360.7 400.7 441.2 482.3" rotate="49.0 49.8 50.4 51.0 51.9 52.8 53.7 54.3">spinodal</text>
</svg></body></html>
